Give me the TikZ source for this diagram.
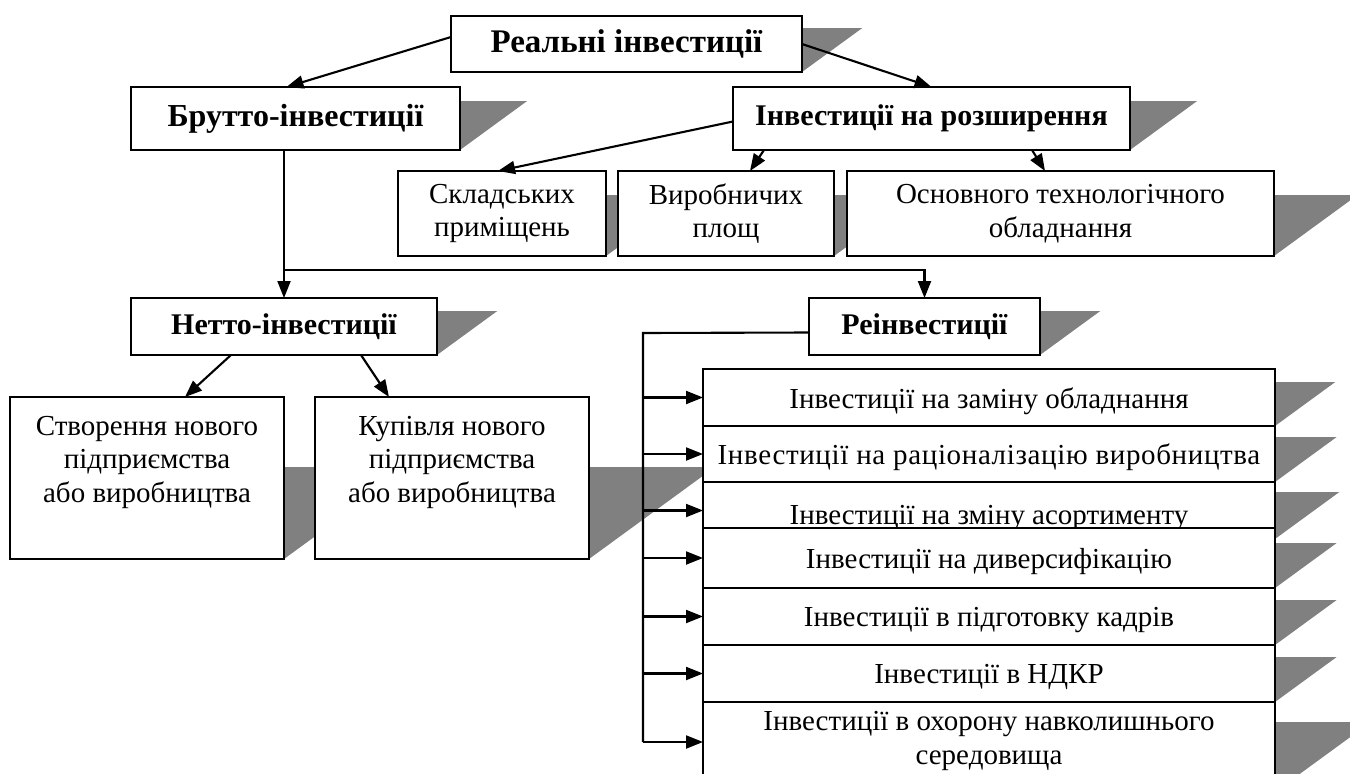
\documentclass[tikz,border=0pt]{standalone}
\usepackage{fontspec}
\setmainfont{Liberation Serif}
\usetikzlibrary{arrows.meta,calc}
\definecolor{shadowgray}{RGB}{128,128,128}
\pgfdeclarelayer{backdrop}
\pgfsetlayers{backdrop,main}
% slanted drop shadow to the right of a box: #1 node, #2 offset from its top
\newcommand\dropshade[2]{%
  \fill[shadowgray] let \p1=(#1.north east), \p2=(#1.south east),
    \n1={1.37*(\y1-\y2-#2pt)} in
    (\x1,\y1-#2pt) -- (\x1+\n1,\y1-#2pt) -- (\p2) -- cycle;}

\begin{document}
\begin{tikzpicture}[x=1pt,y=-1pt,
  box/.style={draw, line width=2.1pt, fill=white, inner sep=0pt, outer sep=0pt,
    align=center, font=\fontsize{29}{33.5}\selectfont},
  head/.style={box, font=\fontsize{30}{34}\selectfont\bfseries},
  txt/.style={inner sep=0pt, align=center, font=\fontsize{29}{33.5}\selectfont},
  lowered/.style={label={[txt, yshift=-3.5pt]center:#1}},
  link/.style={line width=2.1pt, -{Triangle[length=17pt,width=13pt]}},
  rail/.style={line width=2.1pt}]
\useasboundingbox (0,0) rectangle (1350,774);

% top level
\node[head, font=\fontsize{33}{38}\selectfont\bfseries,
  minimum width=351, minimum height=56] (real)   at (626.5,44)  {Реальні інвестиції};
\node[head, font=\fontsize{32}{37}\selectfont\bfseries,
  minimum width=329, minimum height=63] (brutto) at (295.5,118.5) {Брутто-інвестиції};
\node[head, minimum width=397, minimum height=63] (rozsh)  at (931.5,118.5) {Інвестиції на розширення};

% expansion targets
\node[box, minimum width=208, minimum height=85] (sklad) at (502,213.5)    {Складських\\приміщень};
\node[box, minimum width=216, minimum height=85] (vyrob) at (726,213.5)    {Виробничих\\площ};
\node[box, minimum width=427, minimum height=85] (osn)   at (1060.5,213.5) {Основного технологічного\\обладнання};

% net investment and reinvestment
\node[head, minimum width=306, minimum height=57] (netto) at (284,326.5)   {Нетто-інвестиції};
\node[head, minimum width=231, minimum height=57] (reinv) at (924.5,326.5) {Реінвестиції};

\node[box, minimum width=274, minimum height=162,
  label={[txt, yshift=16pt]center:Створення нового\\підприємства\\або виробництва}] (stv) at (147,478) {};
\node[box, minimum width=274, minimum height=162,
  label={[txt, yshift=16pt]center:Купівля нового\\підприємства\\або виробництва}] (kup) at (452,478) {};

% reinvestment list
\node[box, minimum width=572, minimum height=57,
  lowered={Інвестиції на заміну обладнання}] (r1) at (989,397.5) {};
\node[box, minimum width=572, minimum height=56,
  lowered={\addfontfeature{LetterSpace=2.2}Інвестиції на раціоналізацію виробництва}] (r2) at (989,454) {};
\node[box, minimum width=572, minimum height=57,
  label={[txt, yshift=-7.5pt]center:Інвестиції на зміну асортименту}] (r3) at (989,510.5) {};
\node[box, minimum width=572, minimum height=60,
  lowered={Інвестиції на диверсифікацію}] (r4) at (989,558) {};
\node[box, minimum width=572, minimum height=57,
  lowered={Інвестиції в підготовку кадрів}] (r5) at (989,616.5) {};
\node[box, minimum width=572, minimum height=57,
  lowered={Інвестиції в НДКР}] (r6) at (989,673.5) {};
\node[box, minimum width=572, minimum height=90,
  label={[txt, yshift=6pt]center:Інвестиції в охорону навколишнього\\середовища}] (r7) at (989,747) {};

\begin{pgfonlayer}{backdrop}
  \dropshade{real}{12}
  \dropshade{brutto}{14}
  \dropshade{rozsh}{14}
  \dropshade{sklad}{24}
  \dropshade{vyrob}{24}
  \dropshade{osn}{24}
  \dropshade{netto}{13}
  \dropshade{reinv}{13}
  \dropshade{stv}{70}
  \dropshade{kup}{70}
  \dropshade{r1}{13}
  \dropshade{r2}{11}
  \dropshade{r3}{10}
  \dropshade{r4}{15}
  \dropshade{r5}{12}
  \dropshade{r6}{12}
  \dropshade{r7}{20}
\end{pgfonlayer}

% connectors
\draw[link] ([yshift=7pt]real.west) -- ([xshift=-9pt]brutto.north);
\draw[link] (real.east) -- (rozsh.north);
\draw[link] ([yshift=-3pt]rozsh.west) -- ([xshift=-4pt]sklad.north);
\draw[link] ($(rozsh.south west)+(31,0)$) -- ($(vyrob.north west)+(132,0)$);
\draw[link] ($(rozsh.south west)+(299,0)$) -- ($(osn.north west)+(198,0)$);

\draw[link] (brutto.south -| netto.north) -- (netto.north);
\coordinate (fork) at ($(netto.north)+(0,-28)$);
\draw[link] (fork) -| (reinv.north);

\draw[link] ($(netto.south west)+(100,0)$) -- ($(stv.north west)+(175,0)$);
\draw[link] ($(netto.south west)+(230,0)$) -- ($(kup.north west)+(74,0)$);

\coordinate (railtop) at ($(r1.north west)+(-60,-36)$);
\coordinate (railend) at ($(r7.west)+(-60,-5)$);
\draw[rail] ([yshift=-6pt]reinv.west) -- (railtop) -- (railend);
\foreach \r in {r1,r2,r3,r4,r5,r6}
  \draw[link] (\r.west -| railtop) -- (\r.west);
\draw[link] (railend) -- (railend -| r7.west);
\end{tikzpicture}
\end{document}
